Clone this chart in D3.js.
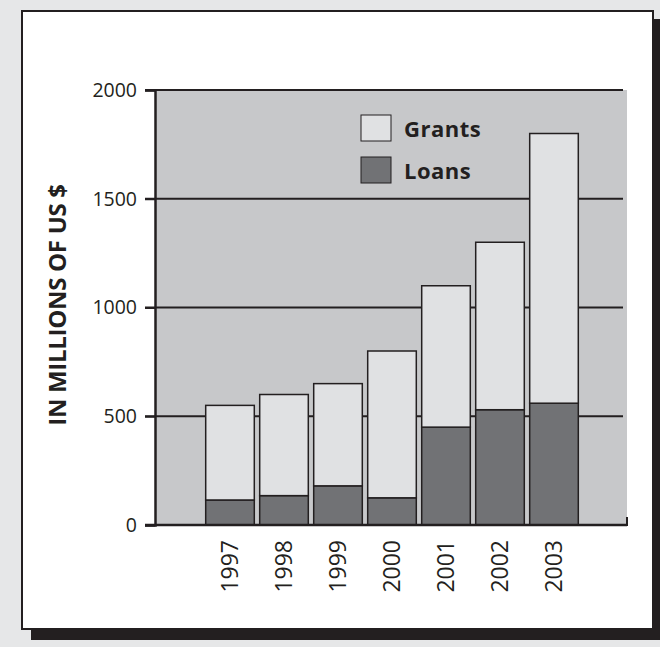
<!DOCTYPE html>
<html>
<head>
<meta charset="utf-8">
<script src="https://cdn.jsdelivr.net/npm/d3@7"></script>
<style>
  body { margin: 0; background: #e6e7e8; }
  text { font-family: "Open Sans", "Liberation Sans", sans-serif; }
</style>
</head>
<body>
<div id="chart"></div>
<script>
// data
const years = ["1997", "1998", "1999", "2000", "2001", "2002", "2003"];
const loans = [115, 135, 180, 125, 450, 530, 560];
const grants = [435, 465, 470, 675, 650, 770, 1240];
const yTicks = [0, 500, 1000, 1500, 2000];
const seriesNames = ["Grants", "Loans"];
const colors = { Grants: "#e0e1e3", Loans: "#717275" };

const W = 660, H = 647;
const svg = d3.select("#chart").append("svg")
    .attr("width", W).attr("height", H);

// outer background
svg.append("rect").attr("width", W).attr("height", H).attr("fill", "#e6e7e8");

// card with drop shadow
svg.append("rect").attr("x", 31).attr("y", 19).attr("width", 640).attr("height", 621).attr("fill", "#231f20");
svg.append("rect").attr("x", 22).attr("y", 11).attr("width", 631).attr("height", 618)
    .attr("fill", "#fff").attr("stroke", "#231f20").attr("stroke-width", 2);

// plot geometry
const plotL = 155, plotR = 627, plotT = 90, plotB = 525;

const y = d3.scaleLinear().domain([0, 2000]).range([plotB, plotT]);
const x = d3.scaleBand().domain(years).range([203, 581]).paddingInner(0.1).paddingOuter(0.05);

// plot background
svg.append("rect").attr("x", plotL).attr("y", plotT).attr("width", plotR - plotL).attr("height", plotB - plotT)
    .attr("fill", "#c7c8ca");

// grid lines
svg.append("g").selectAll("line").data(yTicks.filter(d => d > 0)).join("line")
    .attr("x1", 145).attr("x2", 623)
    .attr("y1", d => y(d)).attr("y2", d => y(d))
    .attr("stroke", "#231f20").attr("stroke-width", 2);

// y axis
const yAxis = svg.append("g").attr("transform", `translate(${plotL},0)`)
    .call(d3.axisLeft(y).tickValues(yTicks).tickFormat(d3.format("d")).tickSize(10).tickPadding(8));
yAxis.select(".domain").attr("stroke", "#231f20").attr("stroke-width", 2.5);
yAxis.selectAll(".tick line").attr("stroke", "#231f20").attr("stroke-width", 2);
yAxis.selectAll(".tick text").attr("font-size", 19.5).attr("fill", "#231f20")
    .attr("font-family", "'Open Sans', sans-serif");

// stacked bars
const stacked = years.map((yr, i) => ({ year: yr, Loans: loans[i], Grants: grants[i] }));
const stack = d3.stack().keys(["Loans", "Grants"])(stacked);

svg.append("g").selectAll("g").data(stack).join("g")
    .attr("fill", d => colors[d.key])
  .selectAll("rect").data(d => d).join("rect")
    .attr("x", d => x(d.data.year))
    .attr("width", x.bandwidth())
    .attr("y", d => y(d[1]))
    .attr("height", d => y(d[0]) - y(d[1]))
    .attr("stroke", "#231f20").attr("stroke-width", 1.5);

// x axis line with small right tick
svg.append("line").attr("x1", 145).attr("x2", plotR).attr("y1", plotB).attr("y2", plotB)
    .attr("stroke", "#231f20").attr("stroke-width", 2.5);
svg.append("line").attr("x1", plotR).attr("x2", plotR).attr("y1", plotB - 8).attr("y2", plotB + 1)
    .attr("stroke", "#231f20").attr("stroke-width", 2);

// year labels, rotated
svg.append("g").selectAll("text").data(years).join("text")
    .attr("transform", d => `translate(${x(d) + x.bandwidth() / 2 + 7.5},540) rotate(-90)`)
    .attr("text-anchor", "end")
    .attr("font-family", "'Liberation Sans', Arial, sans-serif")
    .attr("font-size", 23).attr("fill", "#231f20")
    .text(d => d);

// y axis title
svg.append("text")
    .attr("transform", "translate(66,305) rotate(-90)")
    .attr("text-anchor", "middle")
    .attr("font-size", 24).attr("font-weight", "bold").attr("letter-spacing", -0.3).attr("fill", "#231f20")
    .text("IN MILLIONS OF US $");

// legend
const legend = svg.append("g").selectAll("g").data(seriesNames).join("g")
    .attr("transform", (d, i) => `translate(361,${115 + i * 42})`);
legend.append("rect").attr("width", 30).attr("height", 26)
    .attr("fill", d => colors[d]).attr("stroke", "#231f20").attr("stroke-width", 1);
legend.append("text").attr("x", 43).attr("y", 22)
    .attr("font-size", 22).attr("font-weight", "bold").attr("letter-spacing", 0.5).attr("fill", "#231f20")
    .text(d => d);
</script>
</body>
</html>
